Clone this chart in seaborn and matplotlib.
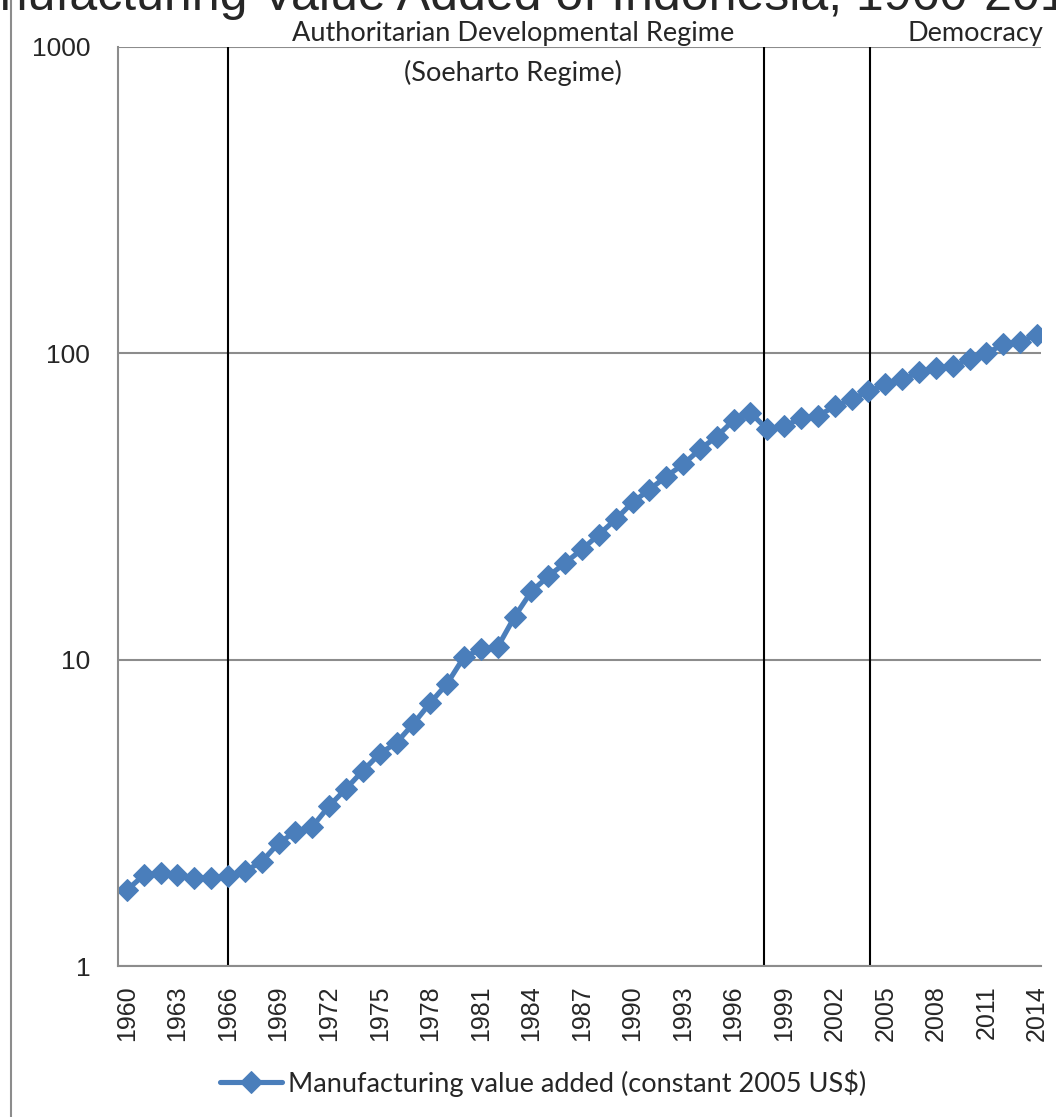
import matplotlib
matplotlib.use("Agg")
import matplotlib.pyplot as plt
from matplotlib.lines import Line2D
from matplotlib.ticker import FixedLocator, NullFormatter
import seaborn as sns
import pandas as pd

# Manufacturing value added, Indonesia (billions, constant 2005 US$)
years = list(range(1960, 2015))
mva = [1.77, 1.98, 2.01, 1.98, 1.94, 1.94, 1.97, 2.04, 2.19, 2.52,
       2.74, 2.85, 3.33, 3.79, 4.34, 4.93, 5.36, 6.18, 7.23, 8.35,
       10.2, 10.8, 11.0, 13.8, 16.7, 18.7, 20.7, 22.9, 25.6, 28.7,
       32.6, 35.9, 39.6, 43.4, 48.6, 53.5, 60.5, 64.0, 56.5, 57.7,
       61.5, 62.5, 67.1, 70.8, 75.1, 79.2, 82.2, 86.7, 89.3, 90.8,
       95.6, 100.0, 107.0, 109.0, 115.0]
regime_breaks = [1966.0, 1997.8, 2004.1]
series_label = "Manufacturing value added (constant 2005 US$)"

df = pd.DataFrame({"year": years, "mva": mva})

sns.set_style("white")
plt.rcParams["font.family"] = ["Liberation Sans", "DejaVu Sans"]

fig = plt.figure(figsize=(10.56, 11.17), dpi=100)
W, H = 1056, 1117
ax = fig.add_axes([118 / W, 1 - 966 / H, (1041 - 118) / W, (966 - 47) / H])

blue = "#4a7ebb"
sns.lineplot(data=df, x="year", y="mva", ax=ax, color=blue, linewidth=3.7,
             marker="D", markersize=11.5, markeredgecolor=blue, label=series_label)

ax.set_yscale("log")
ax.set_ylim(1, 1000)
ax.set_xlim(1959.47, 2014.24)

# y axis
ax.yaxis.set_major_locator(FixedLocator([1, 10, 100, 1000]))
ax.set_yticklabels(["1", "10", "100", "1000"], fontsize=19)
ax.yaxis.set_minor_formatter(NullFormatter())
ax.yaxis.set_minor_locator(FixedLocator([]))
ax.grid(axis="y", which="major", color="#8c8c8c", linewidth=1.5)

# x axis: label every 3 years, tick every year
ax.set_xticks(years[::3])
ax.set_xticklabels([str(y) for y in years[::3]], rotation=90, fontsize=18)
ax.xaxis.set_minor_locator(FixedLocator([y - 0.5 for y in years] + [2014.24]))
ax.tick_params(axis="x", which="major", length=0, pad=14)
ax.tick_params(axis="x", which="minor", length=6, width=1.5, color="#8c8c8c", direction="out")
ax.tick_params(axis="y", which="major", length=7, width=1.5, color="#8c8c8c", direction="out", pad=13)

for side in ["top", "right"]:
    ax.spines[side].set_visible(False)
for side in ["left", "bottom"]:
    ax.spines[side].set_color("#8c8c8c")
    ax.spines[side].set_linewidth(1.5)

ax.set_xlabel("")
ax.set_ylabel("")

for xb in regime_breaks:
    ax.axvline(xb, color="black", linewidth=1.5, zorder=1)

# regime annotations
note_font = ["Lato", "DejaVu Sans"]
fig.text(513 / W, 1 - 33 / H, "Authoritarian Developmental Regime", ha="center", va="center",
         fontsize=19.5, family=note_font)
fig.text(513 / W, 1 - 73 / H, "(Soeharto Regime)", ha="center", va="center",
         fontsize=19.5, family=note_font)
fig.text(1043 / W, 1 - 33 / H, "Democracy", ha="right", va="center",
         fontsize=19.5, family=note_font)

# title, cut off by the top of the image
fig.text(513 / W, 1 - 10 / H, "Manufacturing Value Added of Indonesia, 1960-2014",
         ha="center", va="baseline", fontsize=36)

# outer chart border on the left
fig.add_artist(Line2D([10.5 / W, 10.5 / W], [0, 1], transform=fig.transFigure,
                      color="#8c8c8c", linewidth=1.5))

leg = ax.legend(loc="center", bbox_to_anchor=(543 / W, 1 - 1083 / H),
                bbox_transform=fig.transFigure, frameon=False, handlelength=2.3,
                prop={"family": note_font, "size": 19.5}, handletextpad=0.2)

fig.savefig("out.png", dpi=100)
